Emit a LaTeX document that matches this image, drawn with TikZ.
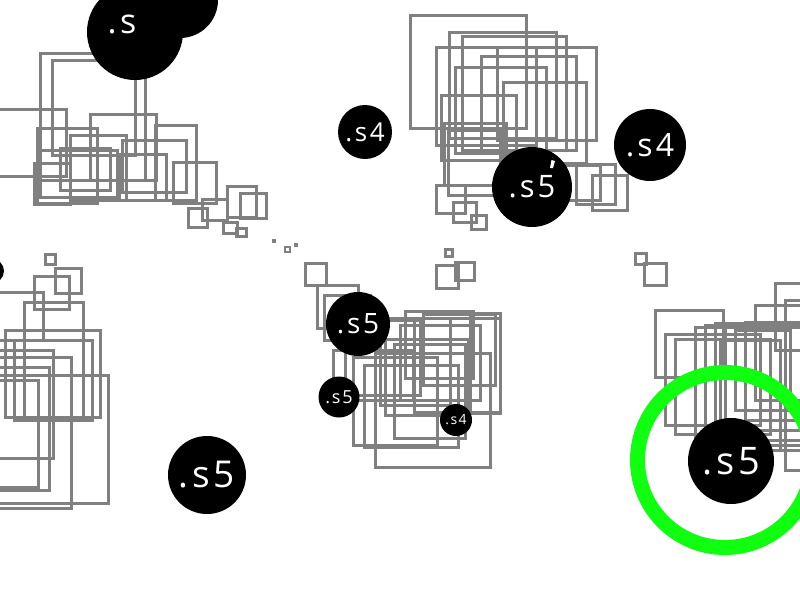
\documentclass[tikz,border=0pt]{standalone}
\usepackage{fontspec}
\setmainfont{Open Sans}
\newfontfamily\lblfont[LetterSpace=10]{Open Sans}
\definecolor{sqgray}{RGB}{128,128,128}
\definecolor{ringgreen}{RGB}{16,255,16}
\tikzset{
  sq/.style={draw=sqgray, line width=3pt},
  blob/.style={circle, fill=black, inner sep=0pt, text=white},
  ring/.style={draw=ringgreen, line width=15pt}
}
\newcommand{\fsz}[1]{\lblfont\fontsize{#1}{#1}\selectfont}
\begin{document}
\begin{tikzpicture}[x=1pt,y=-1pt]
\useasboundingbox (0,0) rectangle (800,600);
\fill[white] (0,0) rectangle (800,600);
\clip (0,0) rectangle (800,600);
% cluster A (top left)
\foreach \a/\b/\c/\d in {40/53/145/180, 52/60/135/155, -10/109/66/176, 90/114/156/180,
  37/128/97/203, 70/135/126/200, 155/125/196/200, 122/140/186/192, 119/154/166/200,
  34/163/70/204, 40/150/117/197, 60/148/110/190, 173/162/216/203, 188/208/207/227,
  202/199/227/220, 227/186/256/217, 240/193/266/218, 223/222/237/233, 236/228/246/236}
  {\draw[sq] (\a,\b) rectangle (\c,\d);}
\fill[sqgray] (272,239) rectangle (276,243);
\draw[sqgray, line width=2pt] (285,247) rectangle (290,252);
\fill[sqgray] (294,243) rectangle (298,247);
% cluster B (top centre)
\foreach \a/\b/\c/\d in {410/15/526/128, 449/32/556/138, 462/36/566/150, 436/47/536/145,
  497/47/596/140, 481/56/576/150, 455/67/546/153, 503/82/586/163, 441/95/516/160,
  444/123/506/185, 448/130/500/195, 436/185/465/213, 453/202/476/222, 471/215/486/229,
  576/164/615/204, 592/175/627/210, 560/165/600/200}
  {\draw[sq] (\a,\b) rectangle (\c,\d);}
% small isolated squares
\foreach \a/\b/\c/\d in {445/249/452/256, 436/265/458/288, 455/262/474/280,
  635/253/646/264, 644/263/666/285}
  {\draw[sq] (\a,\b) rectangle (\c,\d);}
% cluster C (centre)
\foreach \a/\b/\c/\d in {305/263/326/285, 317/285/358/328, 324/295/370/340, 405/311/473/378,
  423/314/495/385, 414/318/500/412, 470/313/500/413, 385/339/468/415, 394/344/465/438,
  375/353/490/467, 353/357/437/445, 364/365/458/447, 333/350/413/400, 345/320/420/395,
  400/325/480/400, 380/318/450/405}
  {\draw[sq] (\a,\b) rectangle (\c,\d);}
% cluster D (left)
\foreach \a/\b/\c/\d in {45/254/55/264, 55/268/81/293, 34/276/69/309, -20/292/43/340,
  24/302/83/417, 5/330/100/417, 14/340/92/420, -20/350/53/458, -20/357/71/508,
  -20/375/108/503, -20/367/49/490, -20/380/38/487}
  {\draw[sq] (\a,\b) rectangle (\c,\d);}
% cluster E (right)
\foreach \a/\b/\c/\d in {655/310/723/377, 665/334/760/425, 675/339/770/434, 695/327/810/440,
  705/325/810/445, 715/323/810/450, 725/327/810/430, 735/330/790/410, 745/322/810/420,
  755/305/810/400, 775/283/810/350, 785/300/810/470, 720/340/780/450}
  {\draw[sq] (\a,\b) rectangle (\c,\d);}
% green ring
\draw[ring] (725,460) circle (87.5);
% black circles
\node[blob, minimum size=76pt] (c0) at (180,0) {};
\node[blob, minimum size=96pt] (c1) at (135,32) {};
\node[text=white, inner sep=0pt, font=\fsz{34}] (t1) at (122,24) {.s};
\node[blob, minimum size=24pt] (c2) at (-8,271) {};
\node[blob, minimum size=54pt, font=\fsz{26}] (c3) at (365,132) {.s4};
\node[blob, minimum size=72pt, font=\fsz{32}] (c4) at (650,145) {.s4};
\node[blob, minimum size=80pt, font=\fsz{31}] (c5) at (532,187) {.s5};
\fill[white] (550,168) -- (551.5,160) -- (555,161) -- (553,168) -- cycle;
\node[blob, minimum size=64pt, font=\fsz{28}] (c6) at (358,324) {.s5};
\node[blob, minimum size=41pt, font=\fsz{18}] (c7) at (339,397) {.s5};
\node[blob, minimum size=32pt, font=\fsz{14}] (c8) at (456,420) {.s4};
\node[blob, minimum size=78pt, font=\fsz{37}] (c9) at (207,475) {.s5};
\node[blob, minimum size=86pt, font=\fsz{38}] (c10) at (731,461) {.s5};
\end{tikzpicture}
\end{document}
